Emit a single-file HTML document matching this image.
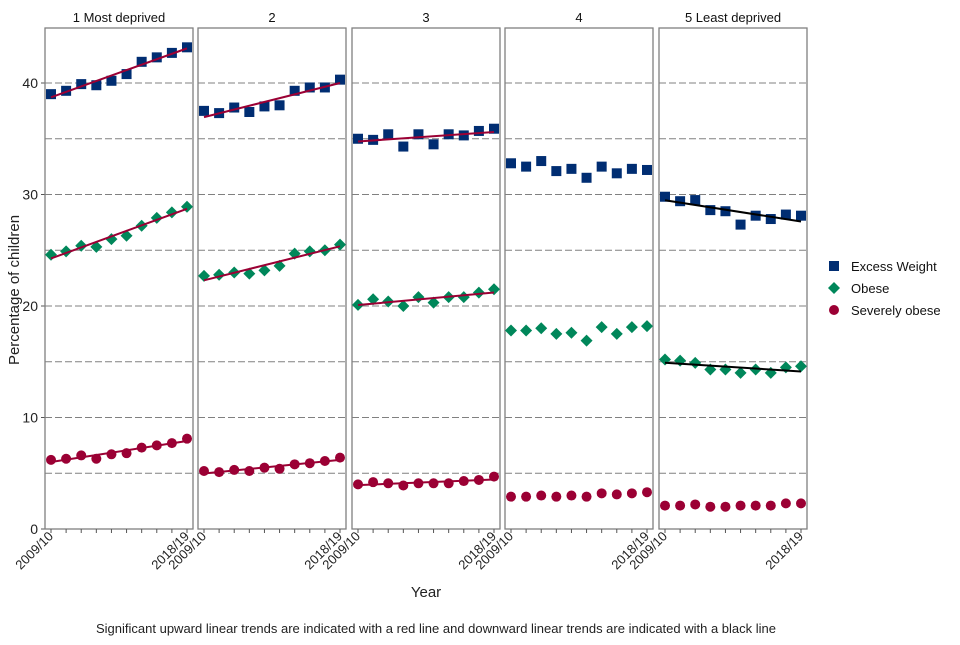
<!DOCTYPE html>
<html><head><meta charset="utf-8"><style>
body{margin:0;background:#fff;font-family:"Liberation Sans",sans-serif;}
svg text{font-family:"Liberation Sans",sans-serif;}
</style></head><body>
<svg id="chart" width="960" height="640" xmlns="http://www.w3.org/2000/svg"></svg>
<script>
const panels=["1 Most deprived","2","3","4","5 Least deprived"];
const years=["2009/10","2010/11","2011/12","2012/13","2013/14","2014/15","2015/16","2016/17","2017/18","2018/19"];
const excessWeight=[
[39.0,39.3,39.9,39.8,40.2,40.8,41.9,42.3,42.7,43.2],
[37.5,37.3,37.8,37.4,37.9,38.0,39.3,39.6,39.6,40.3],
[35.0,34.9,35.4,34.3,35.4,34.5,35.4,35.3,35.7,35.9],
[32.8,32.5,33.0,32.1,32.3,31.5,32.5,31.9,32.3,32.2],
[29.8,29.4,29.5,28.6,28.5,27.3,28.1,27.8,28.2,28.1]];
const obese=[
[24.6,24.9,25.4,25.3,26.0,26.3,27.2,27.9,28.4,28.9],
[22.7,22.8,23.0,22.9,23.2,23.6,24.7,24.9,25.0,25.5],
[20.1,20.6,20.4,20.0,20.8,20.3,20.8,20.8,21.2,21.5],
[17.8,17.8,18.0,17.5,17.6,16.9,18.1,17.5,18.1,18.2],
[15.2,15.1,14.9,14.3,14.3,14.0,14.3,14.0,14.5,14.6]];
const severe=[
[6.2,6.3,6.6,6.3,6.7,6.8,7.3,7.5,7.7,8.1],
[5.2,5.1,5.3,5.2,5.5,5.4,5.8,5.9,6.1,6.4],
[4.0,4.2,4.1,3.9,4.1,4.1,4.1,4.3,4.4,4.7],
[2.9,2.9,3.0,2.9,3.0,2.9,3.2,3.1,3.2,3.3],
[2.1,2.1,2.2,2.0,2.0,2.1,2.1,2.1,2.3,2.3]];
const trends=[["up","up","up"],["up","up","up"],["up","up","up"],["","",""],["down","down",""]];
const yTicks=[0,10,20,30,40];
const yGrid=[5,10,15,20,25,30,35,40];

const svg=document.getElementById('chart');
const NS="http://www.w3.org/2000/svg";
function mk(t,a,p){const e=document.createElementNS(NS,t);for(const k in a)e.setAttribute(k,a[k]);(p||svg).appendChild(e);return e;}
const panelLeft=[45,198,352,505,659], pw=148, topY=28, bot=529;
function yS(v){return bot-v*(446/40);}
function xS(p,i){return panelLeft[p]+6+i*(pw-12)/(years.length-1);}
const colors={ew:"#002d72",ob:"#00875a",sv:"#9b0034"};
function fit(vals){const n=vals.length;let sx=0,sy=0,sxx=0,sxy=0;vals.forEach((v,i)=>{sx+=i;sy+=v;sxx+=i*i;sxy+=i*v;});const b=(n*sxy-sx*sy)/(n*sxx-sx*sx);return [ (sy-b*sx)/n, b];}
function marker(kind,cx,cy,g){
 let e;
 if(kind==="ew"){e=mk('rect',{x:cx-5,y:cy-5,width:10,height:10,fill:colors.ew},g);}
 else if(kind==="ob"){e=mk('polygon',{points:`${cx},${cy-6} ${cx+6},${cy} ${cx},${cy+6} ${cx-6},${cy}`,fill:colors.ob},g);}
 else {e=mk('circle',{cx:cx,cy:cy,r:5,fill:colors.sv},g);}
 return e;
}
yTicks.forEach(v=>{
 const t=mk('text',{x:38,y:yS(v)+5,'text-anchor':'end','font-size':14,fill:'#222'});t.textContent=v;
 
 
 mk('line',{x1:41,x2:45,y1:yS(v),y2:yS(v),stroke:'#555'});
});
panels.forEach((name,p)=>{
 const g=mk('g',{});
 
 
 const L=panelLeft[p];
 yGrid.forEach(v=>{const l=mk('line',{x1:L,x2:L+pw,y1:yS(v),y2:yS(v),stroke:'#808080','stroke-width':1,'stroke-dasharray':'7,3'},g);
  
  });
 const r=mk('rect',{x:L,y:topY,width:pw,height:bot-topY,fill:'none',stroke:'#808080','stroke-width':1.3},g);
 
 
 const st=mk('text',{x:L+pw/2,y:22,'text-anchor':'middle','font-size':13,fill:'#111'},g);st.textContent=name;
 
 
 years.forEach((yr,i)=>{mk('line',{x1:xS(p,i),x2:xS(p,i),y1:bot,y2:bot+4,stroke:'#555'},g);});
 [0,years.length-1].forEach(i=>{const xx=xS(p,i);const t=mk('text',{x:xx+3,y:bot+8,'text-anchor':'end','font-size':13,fill:'#222',transform:`rotate(-45 ${xx+3} ${bot+8})`},g);t.textContent=years[i];
  
  });
 const series=[["ew",excessWeight[p]],["ob",obese[p]],["sv",severe[p]]];
 series.forEach(([k,vals])=>{
  vals.forEach((v,i)=>{const m=marker(k,xS(p,i),yS(v),g);
   
   });
 });
 series.forEach(([k,vals],si)=>{
  const tr=trends[p][si]; if(!tr)return;
  const [a,b]=fit(vals);
  const l=mk('line',{x1:xS(p,0),y1:yS(a),x2:xS(p,vals.length-1),y2:yS(a+b*(vals.length-1)),stroke:tr==="up"?"#9b0034":"#000",'stroke-width':2},g);
  
  
 });
});
let tt=mk('text',{x:19,y:290,'text-anchor':'middle','font-size':15,fill:'#222',transform:'rotate(-90 19 290)'});tt.textContent='Percentage of children';


tt=mk('text',{x:426,y:597,'text-anchor':'middle','font-size':15,fill:'#222'});tt.textContent='Year';


tt=mk('text',{x:436,y:633,'text-anchor':'middle','font-size':13,fill:'#222'});tt.textContent='Significant upward linear trends are indicated with a red line and downward linear trends are indicated with a black line';


const leg=[["ew","Excess Weight",266],["ob","Obese",288],["sv","Severely obese",310]];
const lg=mk('g',{});


leg.forEach(([k,lab,yy])=>{
 const m=marker(k,834,yy,lg);
 
 
 const tx=mk('text',{x:851,y:yy+5,'font-size':13,fill:'#111'},lg);tx.textContent=lab;
 
 
});
</script>
</body></html>
